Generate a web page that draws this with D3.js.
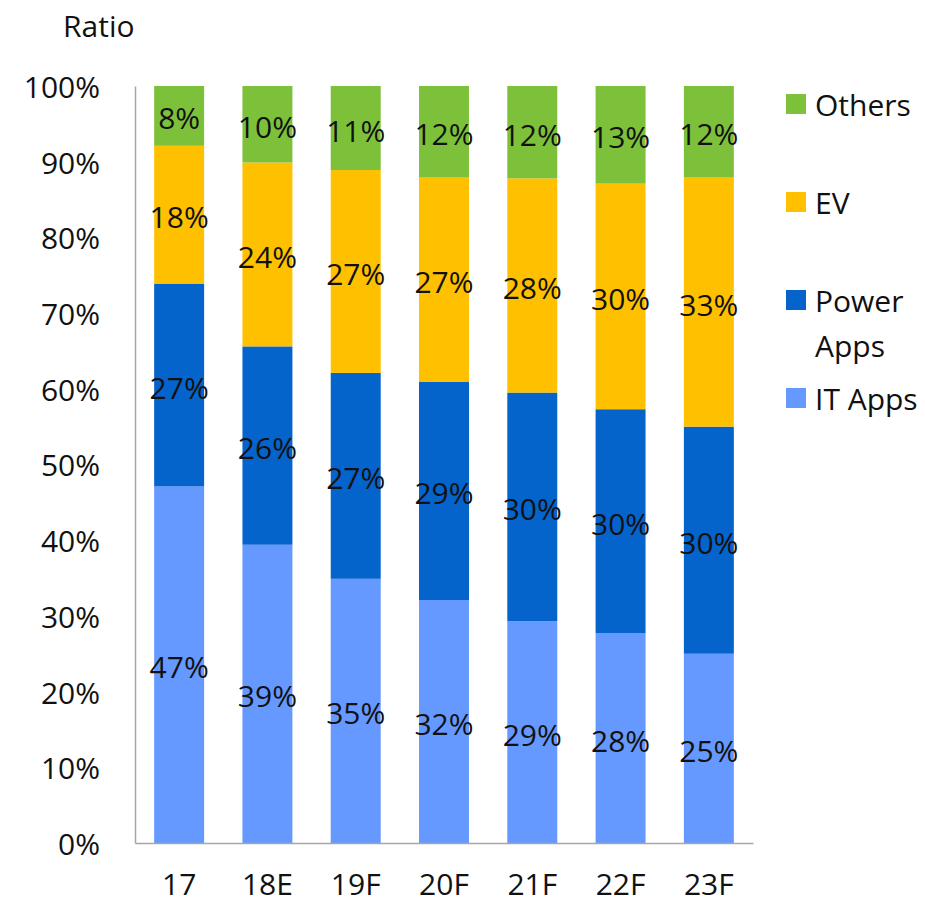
<!DOCTYPE html>
<html>
<head>
<meta charset="utf-8">
<script src="https://cdn.jsdelivr.net/npm/d3@7"></script>
<style>
  body { margin: 0; background: #fff; }
  text { font-family: "Open Sans", "Noto Sans", sans-serif; fill: #111; }
</style>
</head>
<body>
<svg id="chart" width="925" height="905"></svg>
<script>
const WIDTH = 925
const HEIGHT = 905

// data (shares in %)
const categories = ['17', '18E', '19F', '20F', '21F', '22F', '23F'];
const itApps    = [47.1, 39.4, 34.9, 32.1, 29.3, 27.7, 25.0];
const powerApps = [26.8, 26.2, 27.2, 28.8, 30.2, 29.6, 30.0];
const ev        = [18.2, 24.3, 26.8, 27.0, 28.3, 29.8, 32.9];
const others    = [7.9, 10.1, 11.1, 12.1, 12.2, 12.9, 12.1];
const seriesNames = ['IT Apps', 'Power Apps', 'EV', 'Others'];
const seriesColors = ['#6699ff', '#0563cc', '#ffc000', '#7dc13a'];
const yTicks = [0, 10, 20, 30, 40, 50, 60, 70, 80, 90, 100];

class StackedBars {

    constructor() {
        this.svg = d3.select('#chart');
        this.draw();
    }

    draw() {
        let padding = { left: 135, top: 86, right: 753, bottom: 843 };

        let rows = categories.map((c, i) => ({
            cat: c,
            'IT Apps': itApps[i],
            'Power Apps': powerApps[i],
            'EV': ev[i],
            'Others': others[i]
        }));

        const xAxis = d3.scaleBand()
            .domain(categories)
            .range([padding.left, padding.right])
            .paddingInner(0.434)
            .paddingOuter(0.217);

        const yAxis = d3.scaleLinear()
            .domain([0, 100])
            .range([padding.bottom, padding.top]);

        const color = d3.scaleOrdinal().domain(seriesNames).range(seriesColors);

        let stacked = d3.stack().keys(seriesNames)(rows);

        // bars
        let layers = this.svg.append('g')
            .selectAll('g')
            .data(stacked)
            .join('g')
            .attr('fill', d => color(d.key));

        layers.selectAll('rect')
            .data(d => d)
            .join('rect')
            .attr('x', d => xAxis(d.data.cat))
            .attr('y', d => yAxis(d[1]))
            .attr('width', xAxis.bandwidth())
            .attr('height', d => yAxis(d[0]) - yAxis(d[1]));

        // value labels
        layers.selectAll('text')
            .data(d => d)
            .join('text')
            .attr('x', d => xAxis(d.data.cat) + xAxis.bandwidth() / 2)
            .attr('y', d => (yAxis(d[0]) + yAxis(d[1])) / 2 + 2)
            .attr('text-anchor', 'middle')
            .attr('dominant-baseline', 'central')
            .style('font-size', '30px')
            .text(d => Math.round(d[1] - d[0]) + '%');

        // y axis
        let yG = this.svg.append('g')
            .attr('transform', `translate(${padding.left},0)`)
            .call(d3.axisLeft(yAxis).tickValues(yTicks).tickSize(0).tickPadding(35)
                .tickFormat(d => d + '%'));
        yG.select('.domain').attr('stroke', '#a6a6a6').attr('stroke-width', 1.5);
        yG.selectAll('text')
            .style('font-size', '30px')
            .style('font-family', '"Open Sans", "Noto Sans", sans-serif')
            .attr('fill', '#111')
            .attr('dy', '0.38em');

        // x axis
        let xG = this.svg.append('g')
            .attr('transform', `translate(0,${padding.bottom})`)
            .call(d3.axisBottom(xAxis).tickSize(0).tickPadding(31));
        xG.select('.domain').attr('stroke', '#a6a6a6').attr('stroke-width', 1.5);
        xG.selectAll('text')
            .style('font-size', '30px')
            .style('font-family', '"Open Sans", "Noto Sans", sans-serif')
            .attr('fill', '#111');

        // axis title
        this.svg.append('text')
            .attr('x', 63)
            .attr('y', 37)
            .style('font-size', '30px')
            .text('Ratio');

        // legend, top to bottom: Others, EV, Power Apps, IT Apps
        let legendItems = seriesNames.slice().reverse();
        let legend = this.svg.append('g')
            .selectAll('g')
            .data(legendItems)
            .join('g')
            .attr('transform', (d, i) => `translate(786, ${104 + i * 98})`);

        legend.append('rect')
            .attr('x', 0)
            .attr('y', -10)
            .attr('width', 20)
            .attr('height', 20)
            .attr('fill', d => color(d));

        legend.append('text')
            .attr('x', 29)
            .attr('y', 0)
            .attr('dominant-baseline', 'central')
            .style('font-size', '30px')
            .selectAll('tspan')
            .data(d => d === 'Power Apps' ? ['Power', 'Apps'] : [d])
            .join('tspan')
            .attr('x', 29)
            .attr('dy', (t, i) => i === 0 ? 0 : 45)
            .text(t => t);
    }
}

new StackedBars();
</script>
</body>
</html>
